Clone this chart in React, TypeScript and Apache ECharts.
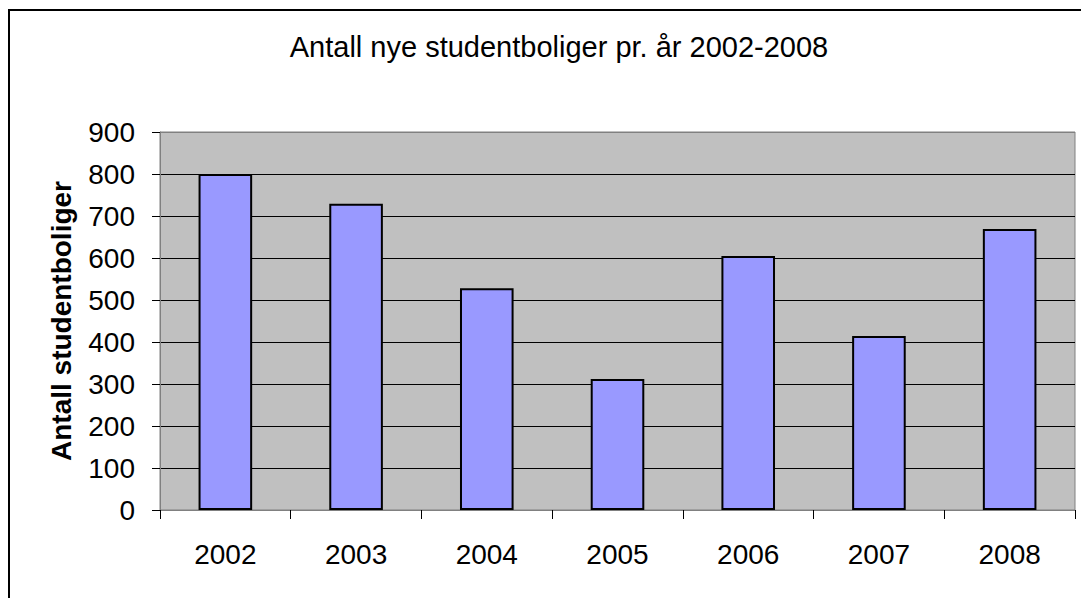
import React, { useEffect, useRef } from "react";
import * as echarts from "echarts";

const title = "Antall nye studentboliger pr. år 2002-2008";
const yAxisName = "Antall studentboliger";
const categories = ["2002", "2003", "2004", "2005", "2006", "2007", "2008"];
const values = [800, 729, 528, 312, 605, 414, 669];
const splitColors = ["#808080", "#000", "#000", "#000", "#000", "#000", "#000", "#000", "#000", "#808080"];

export default function App() {
  const ref = useRef<HTMLDivElement>(null);
  useEffect(() => {
    document.body.style.margin = "0";
    const chart = echarts.init(ref.current!, null, { renderer: "svg" });
    const font = "Arial, 'Liberation Sans', sans-serif";
    chart.setOption({
      animation: false,
      backgroundColor: "#fff",
      title: {
        text: title,
        left: 554,
        top: 27,
        textAlign: "center",
        textStyle: { fontFamily: font, fontSize: 29, fontWeight: "normal", color: "#000" },
      },
      graphic: [
        {
          type: "rect",
          shape: { x: 9, y: 10, width: 1200, height: 800 },
          style: { fill: "none", stroke: "#000", lineWidth: 2 },
          silent: true,
        },
      ],
      grid: {
        left: 160,
        right: 6,
        top: 132,
        bottom: 88,
        show: true,
        backgroundColor: "#c0c0c0",
        borderColor: "#808080",
        borderWidth: 1,
      },
      xAxis: {
        type: "category",
        data: categories,
        axisLine: { lineStyle: { color: "#808080", width: 1 } },
        axisTick: { show: true, length: 9, lineStyle: { color: "#000" } },
        axisLabel: { fontFamily: font, fontSize: 28, color: "#000", margin: 30 },
      },
      yAxis: {
        type: "value",
        min: 0,
        max: 900,
        interval: 100,
        name: yAxisName,
        nameLocation: "middle",
        nameGap: 85,
        nameTextStyle: { fontFamily: font, fontSize: 28, fontWeight: "bold", color: "#000" },
        axisLine: { show: true, lineStyle: { color: "#808080", width: 1 } },
        axisTick: { show: true, length: 8, lineStyle: { color: "#000" } },
        axisLabel: { fontFamily: font, fontSize: 28, color: "#000", margin: 25 },
        splitLine: { show: true, lineStyle: { color: splitColors, width: 1 } },
      },
      series: [
        {
          type: "bar",
          data: values,
          barWidth: "41%",
          itemStyle: { color: "#9999ff", borderColor: "#000", borderWidth: 2 },
        },
      ],
    });
    return () => chart.dispose();
  }, []);
  return <div ref={ref} style={{ width: 1081, height: 598 }} />;
}
